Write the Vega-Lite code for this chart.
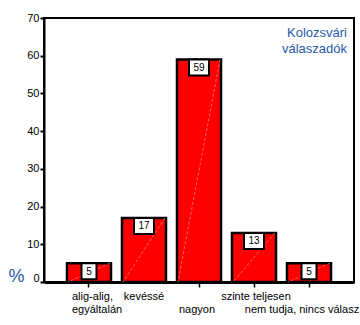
{
  "$schema": "https://vega.github.io/schema/vega-lite/v6.json",
  "width": 310,
  "height": 264,
  "autosize": "none",
  "padding": {"left": 44, "top": 18, "right": 6, "bottom": 43},
  "config": {
    "view": {"stroke": "black", "strokeWidth": 2},
    "font": "Liberation Sans"
  },
  "title": {
    "text": ["Kolozsvári", "válaszadók"],
    "anchor": "end",
    "frame": "group",
    "orient": "top",
    "baseline": "top",
    "color": "#1f5aa6",
    "fontSize": 13,
    "fontWeight": "normal",
    "font": "Liberation Sans",
    "lineHeight": 16,
    "dx": -7,
    "offset": -44
  },
  "data": {
    "values": [
      {"valasz": "alig-alig, egyáltalán", "szazalek": 5},
      {"valasz": "kevéssé", "szazalek": 17},
      {"valasz": "nagyon", "szazalek": 59},
      {"valasz": "szinte teljesen", "szazalek": 13},
      {"valasz": "nem tudja, nincs válasz", "szazalek": 5}
    ]
  },
  "encoding": {
    "x": {
      "field": "valasz",
      "type": "nominal",
      "sort": null,
      "scale": {"paddingInner": 0.2, "paddingOuter": 0.418},
      "axis": {
        "title": null,
        "labelAngle": 0,
        "domainWidth": 3,
        "domainColor": "black",
        "tickColor": "black",
        "tickWidth": 1.5,
        "tickSize": 5,
        "tickOpacity": {"condition": {"test": "datum.value == 'kevéssé'", "value": 0}, "value": 1},
        "labelPadding": 3,
        "labelFontSize": 11,
        "labelColor": "black",
        "labelLineHeight": 13,
        "labelOverlap": false,
        "labelExpr": "datum.value == 'alig-alig, egyáltalán' ? ['alig-alig,', 'egyáltalán'] : (datum.value == 'nagyon' || datum.value == 'nem tudja, nincs válasz') ? ['', datum.value] : datum.value",
        "labelAlign": {"condition": {"test": "datum.value == 'alig-alig, egyáltalán'", "value": "left"}, "value": "center"},
        "labelOffset": {
          "condition": [
            {"test": "datum.value == 'alig-alig, egyáltalán'", "value": -17},
            {"test": "datum.value == 'nem tudja, nincs válasz'", "value": -7},
            {"test": "datum.value == 'nagyon'", "value": -2},
            {"test": "datum.value == 'szinte teljesen'", "value": 2}
          ],
          "value": 0
        }
      }
    },
    "y": {
      "field": "szazalek",
      "type": "quantitative",
      "scale": {"domain": [0, 70]},
      "axis": {
        "title": "%",
        "titleAngle": 0,
        "titleX": -28,
        "titleY": 258,
        "titleAlign": "center",
        "titleBaseline": "middle",
        "titleColor": "#1f5aa6",
        "titleFontSize": 18,
        "titleFontWeight": "normal",
        "values": [0, 10, 20, 30, 40, 50, 60, 70],
        "grid": false,
        "domainWidth": 2,
        "domainColor": "black",
        "tickColor": "black",
        "tickWidth": 2,
        "tickSize": 4,
        "labelPadding": 1,
        "labelFontSize": 11,
        "labelColor": "black",
        "labelOverlap": false,
        "labelFlush": false,
        "labelOffset": {"condition": {"test": "datum.value == 0", "value": -4}, "value": 0}
      }
    }
  },
  "layer": [
    {
      "mark": {"type": "bar", "fill": "#ff0000", "stroke": "black", "strokeWidth": 2.5}
    },
    {
      "mark": {"type": "rule", "color": "#ffa8a8", "strokeWidth": 0.6, "strokeDash": [3, 2], "xOffset": 21, "x2Offset": -21},
      "encoding": {
        "x2": {"field": "valasz"},
        "y2": {"datum": 0}
      }
    },
    {
      "transform": [{"filter": "datum.szazalek < 10"}],
      "mark": {"type": "bar", "fill": "white", "stroke": "black", "strokeWidth": 2, "y2Offset": 16, "width": 15},
      "encoding": {
        "y2": {"field": "szazalek"}
      }
    },
    {
      "transform": [{"filter": "datum.szazalek >= 10"}],
      "mark": {"type": "bar", "fill": "white", "stroke": "black", "strokeWidth": 2, "y2Offset": 16, "width": 20},
      "encoding": {
        "y2": {"field": "szazalek"}
      }
    },
    {
      "mark": {"type": "text", "baseline": "middle", "yOffset": 8.5, "fontSize": 10, "color": "black"},
      "encoding": {
        "text": {"field": "szazalek", "type": "quantitative"}
      }
    }
  ]
}
